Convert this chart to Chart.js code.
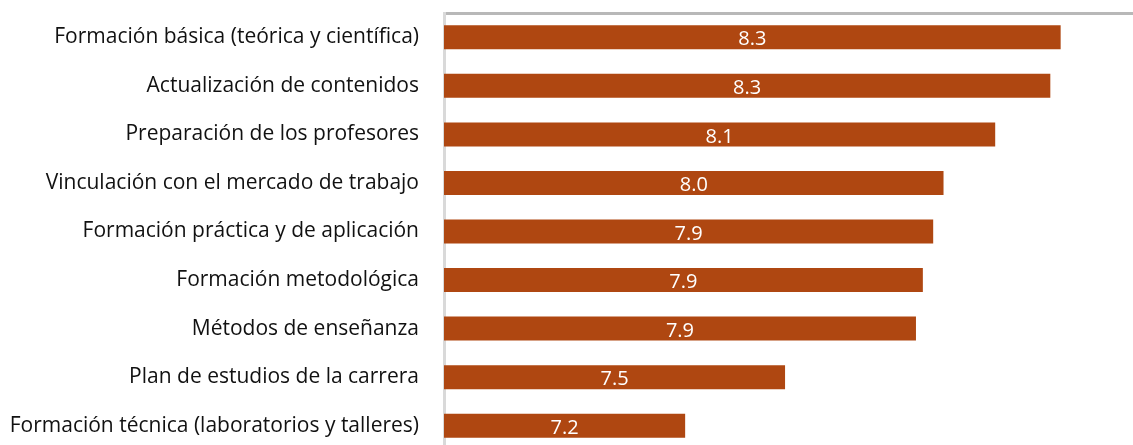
<!DOCTYPE html>
<html>
<head>
<meta charset="utf-8">
<script src="https://cdn.jsdelivr.net/npm/chart.js@4/dist/chart.umd.min.js"></script>
<style>
html,body{margin:0;padding:0;background:#fff;overflow:hidden;}
canvas{display:block;}
</style>
</head>
<body>
<canvas id="c" width="1133" height="450" style="width:1133px;height:450px;"></canvas>
<script>
const categories = [
  "Formación básica (teórica y científica)",
  "Actualización de contenidos",
  "Preparación de los profesores",
  "Vinculación con el mercado de trabajo",
  "Formación práctica y de aplicación",
  "Formación metodológica",
  "Métodos de enseñanza",
  "Plan de estudios de la carrera",
  "Formación técnica (laboratorios y talleres)"
];
const values = [8.29, 8.26, 8.10, 7.95, 7.92, 7.89, 7.87, 7.49, 7.20];
const axisMin = 6.5;
const axisMax = 8.5;

const valueLabels = {
  id: 'valueLabels',
  afterDatasetsDraw(chart) {
    const ctx = chart.ctx;
    const meta = chart.getDatasetMeta(0);
    const left = chart.scales.x.getPixelForValue(axisMin);
    ctx.save();
    ctx.fillStyle = '#ffffff';
    ctx.font = '20px "Open Sans", sans-serif';
    ctx.textAlign = 'center';
    ctx.textBaseline = 'middle';
    meta.data.forEach((bar, i) => {
      const cx = (bar.x + left) / 2;
      ctx.fillText(values[i].toFixed(1), cx, bar.y + 2.5);
    });
    ctx.restore();
  }
};

new Chart(document.getElementById('c'), {
  type: 'bar',
  data: {
    labels: categories,
    datasets: [{
      data: values,
      backgroundColor: '#AF4711',
      borderWidth: 0,
      barPercentage: 0.494,
      categoryPercentage: 1.0
    }]
  },
  options: {
    indexAxis: 'y',
    responsive: false,
    animation: false,
    layout: { padding: { top: 13, right: 0, bottom: 0, left: 0 } },
    plugins: { legend: { display: false }, tooltip: { enabled: false } },
    scales: {
      x: {
        position: 'top',
        min: axisMin,
        max: axisMax,
        ticks: { display: false },
        grid: { display: false, drawTicks: false },
        border: { display: true, color: '#b8b8b8', width: 3 },
        afterFit(scale) { scale.height = 0; scale.paddingLeft = 0; scale.paddingRight = 0; }
      },
      y: {
        ticks: {
          color: '#111111',
          font: { family: '"Open Sans", sans-serif', size: 21 },
          padding: 25
        },
        grid: { display: false, drawTicks: false },
        border: { display: true, color: '#d9d9d9', width: 3 },
        afterFit(scale) { scale.width = 444; scale.paddingTop = 0; scale.paddingBottom = 0; }
      }
    }
  },
  plugins: [valueLabels]
});
</script>
</body>
</html>
